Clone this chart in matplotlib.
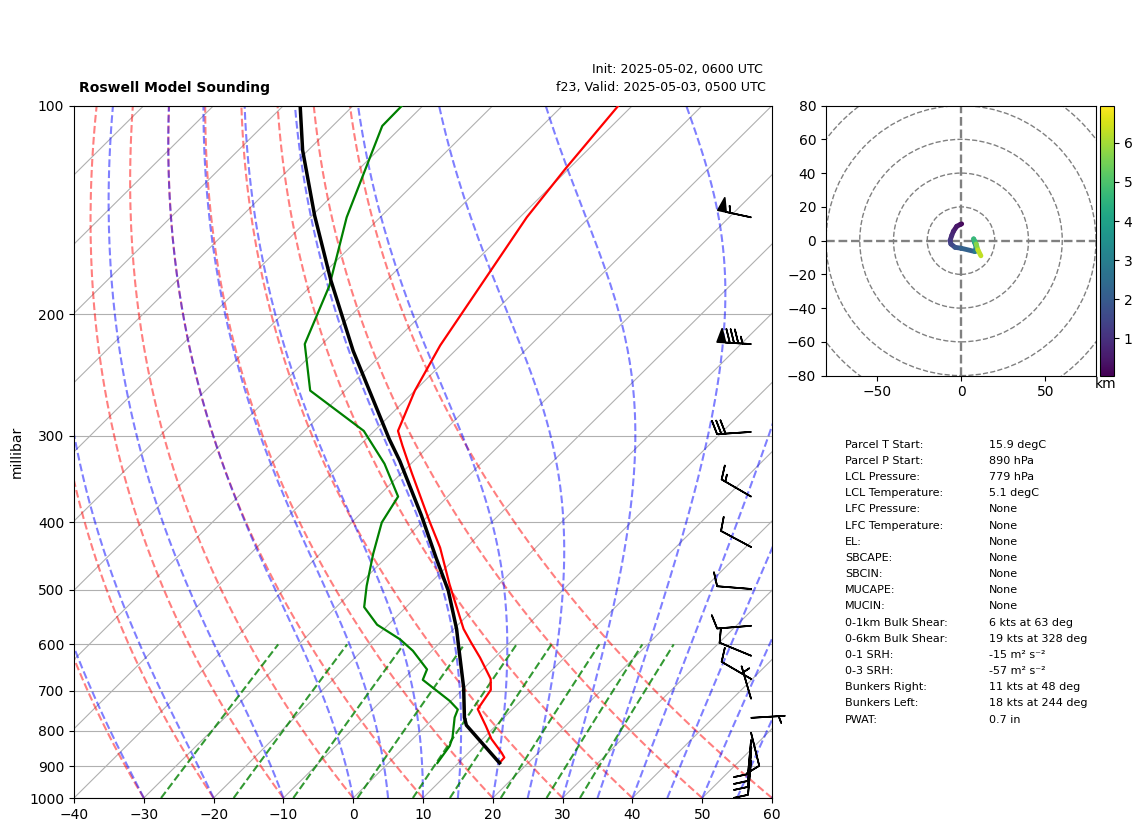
"""Model sounding: skew-T panel, hodograph and parcel table."""
import matplotlib
matplotlib.use("Agg")
import matplotlib.pyplot as plt
import numpy as np
from matplotlib.collections import LineCollection
from matplotlib.ticker import FixedLocator, NullLocator, ScalarFormatter

# ---- Sounding --------------------------------------------------------------
temp_p = [890, 874, 860, 822, 787, 744, 698, 673, 627, 596, 570, 491, 435, 398,
          339, 310, 295, 258, 222, 145, 123, 100]
temp_c = [15.9, 15.8, 14.7, 11.3, 8.6, 5.0, 4.1, 2.5, -2.1, -5.6, -8.6, -17.1,
          -23.7, -29.1, -38.6, -43.8, -46.6, -50.0, -52.9, -59.0, -60.5, -62.0]

dewp_p = [890, 841, 818, 765, 745, 724, 675, 652, 613, 590, 562, 530, 494, 444,
          400, 367, 329, 295, 258, 221, 182, 145, 107, 100]
dewp_c = [7.0, 6.3, 5.5, 2.9, 2.2, -0.2, -7.1, -8.0, -12.7, -16.2, -21.6, -26.0,
          -28.7, -32.4, -35.7, -37.1, -43.8, -51.5, -65.0, -72.5, -77.4, -84.8,
          -92.9, -93.0]

parcel_p = [890, 785, 765, 693, 599, 570, 502, 450, 391, 326, 303, 226, 179, 144,
            116, 100]
parcel_c = [15.9, 5.7, 4.3, -0.1, -7.2, -9.6, -16.3, -22.8, -31.0, -42.0, -46.7,
            -64.6, -77.9, -89.7, -100.8, -107.6]

barb_p = [145, 221, 296, 367, 434, 499, 564, 623, 673, 719, 766, 805, 825, 844,
          861, 884]
barb_u = [53.8, 85, 30, 12.9, 8.8, 10, 10, 9.2, 8.6, 1.4, -5, -2.4, 0.9, 0.9,
          0.9, 0.9]
barb_v = [-11.5, -5, 2, -7.5, -4.7, -0.8, 0.8, -3.8, -5.0, -4.8, -0.3, 9.7, 10,
          10, 10, 10]

hodo_h = [0.05, 0.15, 0.3, 0.5, 0.7, 0.9, 1.2, 1.5, 1.9, 2.2, 2.9, 3.4, 3.7, 4.7,
          5.7, 6.3]
hodo_u = [0.4, -0.5, -2.5, -4.5, -5.5, -6.5, -6, -3.5, 0, 8.3, 9, 8, 7.5, 9, 10,
          11.8]
hodo_v = [9.9, 9.5, 8.5, 5.5, 3, 0, -2, -4, -4.5, -6.5, -3.8, -1, 1, -2, -5.5, -9.0]

table_labels = ["Parcel T Start:", "Parcel P Start:", "LCL Pressure:",
                "LCL Temperature:", "LFC Pressure:", "LFC Temperature:", "EL:",
                "SBCAPE:", "SBCIN:", "MUCAPE:", "MUCIN:", "0-1km Bulk Shear:",
                "0-6km Bulk Shear:", "0-1 SRH:", "0-3 SRH:", "Bunkers Right:",
                "Bunkers Left:", "PWAT:"]
table_values = ["15.9 degC", "890 hPa", "779 hPa", "5.1 degC", "None", "None",
                "None", "None", "None", "None", "None", "6 kts at 63 deg",
                "19 kts at 328 deg", "-15 m\u00b2 s\u207b\u00b2", "-57 m\u00b2 s\u207b\u00b2",
                "11 kts at 48 deg", "18 kts at 244 deg", "0.7 in"]

# ---- Background line families ----------------------------------------------
dry_t0 = np.arange(-40, 61, 10)
moist_t0 = np.concatenate((np.arange(-40, 0, 10), np.arange(0, 61, 5)))
mixing_ratios = [0.0004, 0.001, 0.002, 0.004, 0.007, 0.01, 0.016, 0.024, 0.032]
isotherms = np.arange(-200, 61, 10)

SKEW = 100.0  # degC of x shift per decade of pressure
W, H = 1142, 832


def skew_x(t, p):
    return np.asarray(t) + SKEW * np.log10(1000.0 / np.asarray(p))


def px_axes(left, top, right, bottom):
    return [left / W, 1 - bottom / H, (right - left) / W, (bottom - top) / H]


def moist_profile(t0_c, p):
    """RK4 pseudoadiabat from 1000 hPa along the pressure levels p."""

    def slope(t, pr):
        es = 6.112 * np.exp(17.67 * (t - 273.15) / (t - 29.65))
        rs = 0.622 * es / (pr - es)
        num = 287.0 * t + 2.501e6 * rs
        den = 1005.0 + 2.501e6 ** 2 * rs * 0.622 / (287.0 * t * t)
        return num / den / pr

    out = [t0_c + 273.15]
    for p0, p1 in zip(p[:-1], p[1:]):
        h = p1 - p0
        t = out[-1]
        k1 = slope(t, p0)
        k2 = slope(t + h * k1 / 2, p0 + h / 2)
        k3 = slope(t + h * k2 / 2, p0 + h / 2)
        k4 = slope(t + h * k3, p1)
        out.append(t + h * (k1 + 2 * k2 + 2 * k3 + k4) / 6)
    return np.array(out) - 273.15


fig = plt.figure(figsize=(W / 100, H / 100), dpi=100)

# ---- Skew-T -----------------------------------------------------------------
ax = fig.add_axes(px_axes(74, 105.6, 772, 798))
ax.set_yscale("log")
ax.set_ylim(1000, 100)
ax.set_xlim(-40, 60)
ax.yaxis.set_major_locator(FixedLocator(np.arange(100, 1001, 100)))
ax.yaxis.set_major_formatter(ScalarFormatter())
ax.yaxis.set_minor_locator(NullLocator())
ax.set_xticks(np.arange(-40, 61, 10))
ax.set_ylabel("millibar", labelpad=4)
ax.grid(True, axis="y", color="#b0b0b0", lw=0.8, zorder=1)

plev = np.linspace(1000, 100, 181)
for t in isotherms:
    ax.plot(skew_x([t, t], [1000, 100]), [1000, 100], color="#b0b0b0", lw=0.8, zorder=1)
for t0 in dry_t0:
    t = (t0 + 273.15) * (plev / 1000.0) ** 0.2854 - 273.15
    ax.plot(skew_x(t, plev), plev, color="r", alpha=0.5, lw=1.5, ls="--", zorder=2)
for t0 in moist_t0:
    ax.plot(skew_x(moist_profile(t0, plev), plev), plev, color="b", alpha=0.5, lw=1.5,
            ls="--", zorder=2)
pmix = np.linspace(1000, 600, 40)
for w in mixing_ratios:
    lne = np.log(pmix * w / (0.622 + w) / 6.112)
    td = 243.5 * lne / (17.67 - lne)
    ax.plot(skew_x(td, pmix), pmix, color="g", alpha=0.8, lw=1.5, ls="--", zorder=2)

ax.plot(skew_x(temp_c, temp_p), temp_p, color="r", lw=1.6, zorder=4)
ax.plot(skew_x(dewp_c, dewp_p), dewp_p, color="g", lw=1.6, zorder=4)
ax.plot(skew_x(parcel_c, parcel_p), parcel_p, color="k", lw=2.5, zorder=5)

ax.barbs(np.full(len(barb_p), 0.97), barb_p, barb_u, barb_v, length=7, pivot="tip",
         linewidth=1.2, transform=ax.get_yaxis_transform(), clip_on=False, zorder=6)

fig.text(79 / W, 1 - 88 / H, "Roswell Model Sounding", fontweight="bold", fontsize=10,
         va="center")
fig.text(592 / W, 1 - 70 / H, "Init: 2025-05-02, 0600 UTC", fontsize=9.05, va="center")
fig.text(556 / W, 1 - 88 / H, "f23, Valid: 2025-05-03, 0500 UTC", fontsize=9.05, va="center")

# ---- Hodograph --------------------------------------------------------------
hax = fig.add_axes(px_axes(826, 105.6, 1096, 375.6))
hax.set_xlim(-80, 80)
hax.set_ylim(-80, 80)
hax.set_xticks([-50, 0, 50])
hax.set_yticks(np.arange(-80, 81, 20))
for r in (20, 40, 60, 80, 100):
    hax.add_patch(plt.Circle((0, 0), r, fill=False, ec="gray", ls="--", lw=1.0))
hax.axhline(0, color="gray", ls="--", lw=1.7)
hax.axvline(0, color="gray", ls="--", lw=1.7)

points = np.column_stack((hodo_u, hodo_v)).reshape(-1, 1, 2)
segs = np.concatenate((points[:-1], points[1:]), axis=1)
lc = LineCollection(segs, cmap="viridis", linewidths=3.5, capstyle="round", zorder=3)
lc.set_array(np.asarray(hodo_h)[1:])
lc.set_clim(0.05, 6.95)
hax.add_collection(lc)

cax = fig.add_axes(px_axes(1100, 105.6, 1114, 375.6))
cb = fig.colorbar(lc, cax=cax)
cb.set_ticks([1, 2, 3, 4, 5, 6])
fig.text(1106 / W, 1 - 384 / H, "km", ha="center", va="center", fontsize=10)

# ---- Parcel table -----------------------------------------------------------
for i, (lab, val) in enumerate(zip(table_labels, table_values)):
    y = 1 - (444.8 + i * 16.16) / H
    fig.text(845 / W, y, lab, fontsize=8, va="center")
    fig.text(989 / W, y, val, fontsize=8, va="center")

fig.savefig("out.png", dpi=100)
